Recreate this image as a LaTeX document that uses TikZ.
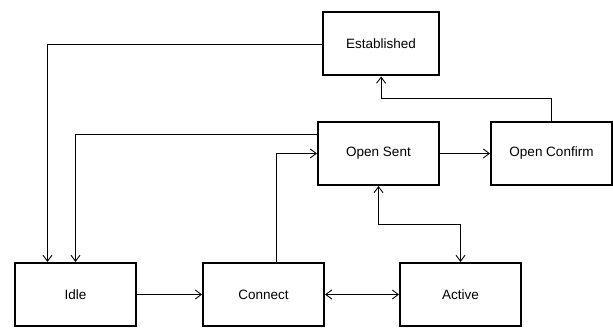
\documentclass[tikz,border=0pt]{standalone}
\usepackage{fontspec}
\setmainfont{Liberation Sans}
\usetikzlibrary{arrows.meta,positioning}
\tikzstyle{state}=[
	rectangle,
	draw=black,
	line width=2pt,
	inner sep=0pt,
	minimum width=121pt,
	minimum height=63pt,
	font=\fontsize{13.5}{16}\selectfont
]
\tikzstyle{transition}=[
	->,
	line width=0.9pt,
	>={Straight Barb[length=6pt,width=9pt]}
]
\begin{document}
\begin{tikzpicture}
\useasboundingbox (-75.5pt,-34.5pt) rectangle (537.5pt,294.5pt);
\node [state] (Idle) at (0,0) {Idle};
\node [state] (Connect)[right=65pt of Idle] {Connect};
\node [state] (Active)[right=74pt of Connect] {Active};
\node [state] (OpenSent)[above=76pt of Active, xshift=-82pt] {Open Sent};
\node [state] (OpenConfirm)[right=50pt of OpenSent] {Open Confirm};
\node [state, minimum width=116pt] (Established)[above=44.5pt of OpenSent, xshift=2.6pt] {Established};
\draw [transition] (Idle) -- (Connect);
\draw [transition, <->] (Connect) -- (Active);
\draw [transition] ([xshift=13pt]Connect.north) |- (OpenSent.west);
\draw [transition] (OpenSent) -- (OpenConfirm);
\draw [transition] (OpenConfirm.north) -- ++(0,22.5pt) -| (Established.south);
\draw [transition, <->] (OpenSent.south) -- ++(0,-38pt) -| (Active.north);
\draw [transition] ([yshift=19pt]OpenSent.west) -| (Idle.north);
\draw [transition] (Established.west) -| ([xshift=-28pt]Idle.north);
\end{tikzpicture}
\end{document}
